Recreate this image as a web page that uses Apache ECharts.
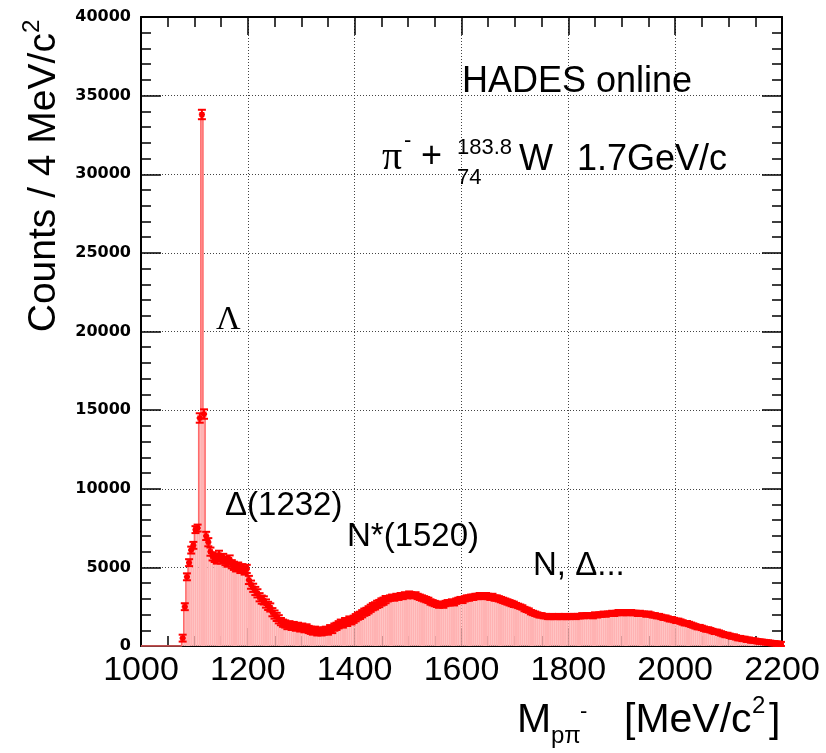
<!DOCTYPE html>
<html>
<head>
<meta charset="utf-8">
<script src="https://cdn.jsdelivr.net/npm/echarts@6/dist/echarts.min.js"></script>
<style>
html,body{margin:0;padding:0;background:#fff;}
#main{width:826px;height:753px;}
</style>
</head>
<body>
<div id="main"></div>
<script>
// ---- data: counts per 4 MeV/c^2 bin, from 1000 to 2200 MeV/c^2 ----
const binStart = 1000;
const binWidth = 4;
const counts1000 = [0,0,0,0,0,0,0,0,0,0,0,0,0,0,0,0,0,0,0,500,2500,4400,5300,6100,6400];
const counts1100 = [7400,7500,14500,33800,14750,7000,6600,6000,5700,5600,5500,5800,5500,5600,5400,5300,5500,5200,5100,5000,5050,4900,4950,4800,4900];
const counts1200 = [4200,3900,3700,3500,3350,3100,2950,2900,2700,2550,2450,2150,2000,1850,1700,1550,1450,1400,1300,1350,1250,1300,1200,1250,1150];
const counts1300 = [1200,1100,1150,1050,1000,950,1000,900,950,900,950,1000,950,1100,1050,1200,1250,1350,1450,1400,1550,1500,1650,1600,1700];
const counts1400 = [1800,1900,1950,2050,2150,2200,2300,2400,2500,2550,2650,2700,2800,2850,2950,3000,3050,3100,3050,3150,3100,3200,3150,3250,3200];
const counts1500 = [3300,3250,3200,3250,3150,3100,3050,3000,2950,2900,2800,2750,2700,2650,2600,2650,2600,2700,2750,2750,2800,2750,2850,2900,2950];
const counts1600 = [2900,3000,3050,3050,3100,3100,3150,3150,3200,3200,3150,3200,3150,3100,3150,3050,3050,3000,2950,2900,2850,2800,2750,2700,2650];
const counts1700 = [2600,2550,2500,2450,2350,2300,2250,2150,2100,2050,2000,1950,1950,1900,1900,1850,1850,1900,1850,1850,1900,1850,1850,1900,1850];
const counts1800 = [1850,1900,1900,1850,1900,1900,1950,1900,1950,1950,1950,1900,2000,1950,2000,2000,2050,2000,2050,2050,2100,2050,2100,2150,2100];
const counts1900 = [2100,2150,2100,2100,2150,2100,2100,2050,2100,2050,2050,2000,2050,2000,1950,1950,1900,1900,1850,1800,1800,1750,1700,1700,1650];
const counts2000 = [1600,1600,1550,1500,1450,1450,1400,1350,1300,1250,1200,1200,1150,1100,1050,1050,1000,950,900,900,850,800,750,700,700];
const counts2100 = [650,600,600,550,500,500,450,450,400,400,350,350,330,300,280,270,250,230,220,200,180,170,150,140,120];
// estimated half-length of the error bars per mass range [from, to, error]
const errorRanges = [[1076,1108,220],[1108,1120,300],[1120,1260,260],[1260,1460,230],[1460,1700,170],[1700,2200,140]];
// axis ticks
const xTicks = [1000,1200,1400,1600,1800,2000,2200];
const yTicks = [0,5000,10000,15000,20000,25000,30000,35000,40000];

const counts = [].concat(counts1000,counts1100,counts1200,counts1300,counts1400,counts1500,
                         counts1600,counts1700,counts1800,counts1900,counts2000,counts2100);

function errFor(center){
  for (const r of errorRanges) if (center >= r[0] && center < r[1]) return r[2];
  return 0;
}
const binData = counts.map((v,i)=>{
  const lo = binStart + i*binWidth, hi = lo + binWidth;
  return [lo, hi, v, errFor((lo+hi)/2)];
});
const outline = counts.map((v,i)=>[binStart + i*binWidth, v]);
outline.push([binStart + counts.length*binWidth, counts[counts.length-1]]);

const chart = echarts.init(document.getElementById('main'), null, {renderer:'canvas'});
const RED = '#ff0000';
const GRID = {left:141, right:44, top:17, bottom:107};
const SANS = 'Liberation Sans, Arial, sans-serif';

const xMin = xTicks[0], xMax = xTicks[xTicks.length-1];
const yMin = yTicks[0], yMax = yTicks[yTicks.length-1];
const xInt = xTicks[1]-xTicks[0], yInt = yTicks[1]-yTicks[0];

const frameLine = {show:true, onZero:false, lineStyle:{color:'#000', width:2}};
const tickCommon = {show:true, inside:true, lineStyle:{color:'#000', width:1.5}};
const plain = v => String(v);

const option = {
  animation:false,
  backgroundColor:'#fff',
  grid: Object.assign({containLabel:false}, GRID),
  xAxis: [{
    type:'value', min:xMin, max:xMax, interval:xInt, position:'bottom',
    axisLine: frameLine,
    axisTick: Object.assign({length:18}, tickCommon),
    minorTick:{show:true, splitNumber:4, length:10, lineStyle:{color:'#000', width:1.5}},
    splitLine:{show:true, lineStyle:{type:[1,2], color:'#444', width:1}},
    axisLabel:{show:true, margin:8, color:'#000', fontSize:34, fontFamily:SANS, formatter:plain}
  },{
    type:'value', min:xMin, max:xMax, interval:xInt, position:'top',
    axisLine: frameLine,
    axisTick: Object.assign({length:18}, tickCommon),
    minorTick:{show:true, splitNumber:4, length:10, lineStyle:{color:'#000', width:1.5}},
    splitLine:{show:false}, axisLabel:{show:false}
  }],
  yAxis: [{
    type:'value', min:yMin, max:yMax, interval:yInt, position:'left',
    axisLine: frameLine,
    axisTick: Object.assign({length:20}, tickCommon),
    minorTick:{show:true, splitNumber:5, length:10, lineStyle:{color:'#000', width:1.5}},
    splitLine:{show:true, lineStyle:{type:[1,2], color:'#444', width:1}},
    axisLabel:{show:true, margin:10, color:'#000', fontSize:16, fontWeight:'bold', fontFamily:'DejaVu Sans, sans-serif', formatter:plain}
  },{
    type:'value', min:yMin, max:yMax, interval:yInt, position:'right',
    axisLine: frameLine,
    axisTick: Object.assign({length:20}, tickCommon),
    minorTick:{show:true, splitNumber:5, length:10, lineStyle:{color:'#000', width:1.5}},
    splitLine:{show:false}, axisLabel:{show:false}
  }],
  series: [
    { // hatched-looking fill
      type:'custom', xAxisIndex:0, yAxisIndex:0, z:2, silent:true,
      data: binData,
      renderItem: function(params, api){
        const p0 = api.coord([api.value(0), 0]);
        const p1 = api.coord([api.value(1), api.value(2)]);
        return {type:'rect', shape:{x:p0[0], y:p1[1], width:p1[0]-p0[0], height:p0[1]-p1[1]},
                style:{fill:'#ffb2b2', stroke:null}};
      }
    },
    { // histogram outline
      type:'line', xAxisIndex:0, yAxisIndex:0, z:3, step:'end', symbol:'none', silent:true,
      data: outline,
      lineStyle:{color:'#ff6a6a', width:1.5}
    },
    { // error bars + markers
      type:'custom', xAxisIndex:0, yAxisIndex:0, z:4, silent:true,
      data: binData,
      renderItem: function(params, api){
        const lo = api.value(0), hi = api.value(1), v = api.value(2), e = api.value(3);
        if (v <= 0) return null;
        const c = (lo+hi)/2;
        const pc = api.coord([c, v]);
        const pl = api.coord([lo, v]);
        const ph = api.coord([hi, v]);
        const pt = api.coord([c, v+e]);
        const pb = api.coord([c, Math.max(0, v-e)]);
        const cap = 4;
        const ls = {stroke:RED, lineWidth:2};
        return {type:'group', children:[
          {type:'line', shape:{x1:pc[0], y1:pt[1], x2:pc[0], y2:pb[1]}, style:ls},
          {type:'line', shape:{x1:pc[0]-cap, y1:pt[1], x2:pc[0]+cap, y2:pt[1]}, style:ls},
          {type:'line', shape:{x1:pc[0]-cap, y1:pb[1], x2:pc[0]+cap, y2:pb[1]}, style:ls},
          {type:'line', shape:{x1:pl[0]-2, y1:pc[1], x2:ph[0]+2, y2:pc[1]}, style:ls},
          {type:'rect', shape:{x:pc[0]-2.5, y:pc[1]-2.5, width:5, height:5}, style:{fill:RED}}
        ]};
      }
    }
  ],
  graphic: [
    // y axis title
    {type:'text', x:42, y:176, rotation:Math.PI/2, z:10,
     style:{text:'{a|Counts / 4 MeV/c}{s|2}', align:'center', verticalAlign:'middle',
       rich:{a:{fontSize:39, fontFamily:SANS, fill:'#000', verticalAlign:'bottom', lineHeight:44},
             s:{fontSize:24, fontFamily:SANS, fill:'#000', verticalAlign:'top', lineHeight:44}}}},
    // x axis title
    {type:'text', x:517, y:721, z:10, style:{text:'M', fontSize:41, fontFamily:SANS, fill:'#000', align:'left', verticalAlign:'middle'}},
    {type:'text', x:551, y:736, z:10, style:{text:'p\u03C0', fontSize:24, fontFamily:SANS, fill:'#000', align:'left', verticalAlign:'middle'}},
    {type:'text', x:580, y:712, z:10, style:{text:'-', fontSize:22, fontFamily:SANS, fill:'#000', align:'left', verticalAlign:'middle'}},
    {type:'text', x:624, y:721, z:10, style:{text:'[MeV/c', fontSize:41, fontFamily:SANS, fill:'#000', align:'left', verticalAlign:'middle'}},
    {type:'text', x:752, y:706, z:10, style:{text:'2', fontSize:24, fontFamily:SANS, fill:'#000', align:'left', verticalAlign:'middle'}},
    {type:'text', x:769, y:721, z:10, style:{text:']', fontSize:41, fontFamily:SANS, fill:'#000', align:'left', verticalAlign:'middle'}},
    // annotations
    {type:'text', x:462, y:82, z:10, style:{text:'HADES online', fontSize:36, fontFamily:SANS, fill:'#000', align:'left', verticalAlign:'middle'}},
    {type:'text', x:382, y:158, z:10, style:{text:'\u03C0', fontSize:40, fontFamily:'Liberation Serif, Times New Roman, serif', fill:'#000', align:'left', verticalAlign:'middle'}},
    {type:'text', x:404, y:141, z:10, style:{text:'-', fontSize:22, fontFamily:SANS, fill:'#000', align:'left', verticalAlign:'middle'}},
    {type:'text', x:421, y:157, z:10, style:{text:'+', fontSize:36, fontFamily:SANS, fill:'#000', align:'left', verticalAlign:'middle'}},
    {type:'text', x:457, y:148, z:10, style:{text:'183.8', fontSize:22, fontFamily:SANS, fill:'#000', align:'left', verticalAlign:'middle'}},
    {type:'text', x:457, y:178, z:10, style:{text:'74', fontSize:22, fontFamily:SANS, fill:'#000', align:'left', verticalAlign:'middle'}},
    {type:'text', x:519, y:160, z:10, style:{text:'W', fontSize:36, fontFamily:SANS, fill:'#000', align:'left', verticalAlign:'middle'}},
    {type:'text', x:577, y:160, z:10, style:{text:'1.7GeV/c', fontSize:36, fontFamily:SANS, fill:'#000', align:'left', verticalAlign:'middle'}},
    {type:'text', x:216, y:320, z:10, style:{text:'\u039B', fontSize:34, fontFamily:'Liberation Serif, Times New Roman, serif', fill:'#000', align:'left', verticalAlign:'middle'}},
    {type:'text', x:225, y:506, z:10, style:{text:'\u0394(1232)', fontSize:33, fontFamily:SANS, fill:'#000', align:'left', verticalAlign:'middle'}},
    {type:'text', x:347, y:537, z:10, style:{text:'N*(1520)', fontSize:33, fontFamily:SANS, fill:'#000', align:'left', verticalAlign:'middle'}},
    {type:'text', x:533, y:566, z:10, style:{text:'N, \u0394...', fontSize:33, fontFamily:SANS, fill:'#000', align:'left', verticalAlign:'middle'}}
  ]
};
chart.setOption(option);
</script>
</body>
</html>
